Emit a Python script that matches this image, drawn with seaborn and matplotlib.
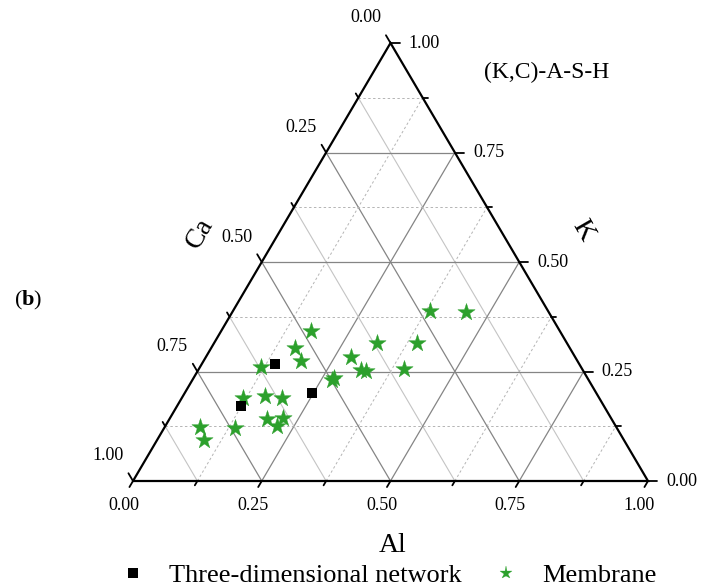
import numpy as np
import pandas as pd
import matplotlib
matplotlib.use("Agg")
import matplotlib.pyplot as plt
from matplotlib.lines import Line2D
import seaborn as sns

# ---------------- data (ternary fractions: Al, K, Ca) ----------------
net_al = [0.143, 0.124, 0.247]
net_k = [0.266, 0.171, 0.202]
net_ca = [0.591, 0.705, 0.551]

mem_al = [0.174, 0.163, 0.190, 0.118, 0.119, 0.160, 0.194, 0.190, 0.219, 0.217,
          0.069, 0.091, 0.137, 0.271, 0.272, 0.281, 0.316, 0.326, 0.317, 0.382,
          0.454, 0.393, 0.399]
mem_k = [0.343, 0.304, 0.274, 0.260, 0.190, 0.194, 0.190, 0.141, 0.143, 0.126,
         0.123, 0.094, 0.122, 0.231, 0.236, 0.284, 0.253, 0.252, 0.314, 0.389,
         0.385, 0.316, 0.255]
mem_ca = [0.483, 0.533, 0.536, 0.622, 0.691, 0.646, 0.616, 0.669, 0.638, 0.657,
          0.809, 0.815, 0.741, 0.499, 0.492, 0.435, 0.431, 0.422, 0.369, 0.229,
          0.161, 0.291, 0.346]

tick_values = [0.0, 0.25, 0.5, 0.75, 1.0]
tick_labels = ["0.00", "0.25", "0.50", "0.75", "1.00"]
series_names = ["Three-dimensional network", "Membrane"]

sns.set_style("white")
plt.rcParams["font.family"] = ["Liberation Serif", "DejaVu Serif"]
plt.rcParams["text.color"] = "black"
plt.rcParams["mathtext.fontset"] = "custom"
plt.rcParams["mathtext.rm"] = "Liberation Serif"
plt.rcParams["mathtext.bf"] = "Liberation Serif:bold"

W, H = 702, 588
fig = plt.figure(figsize=(W / 100, H / 100), dpi=100)
ax = fig.add_axes([0, 0, 1, 1])

# pixel geometry of the triangle
x0px, x1px = 133, 648
ybase, yapex = 481, 43
sx = x1px - x0px
sy = ybase - yapex
ax.set_xlim(-x0px / sx, (W - x0px) / sx)
ax.set_ylim(-(H - ybase) / sy, ybase / sy)
ax.axis("off")
PX = 1.0 / sx
PY = 1.0 / sy


def tern(al, k):
    al = np.asarray(al, float)
    k = np.asarray(k, float)
    return al + k / 2.0, k


# ---------------- grid ----------------
major_c = "#858585"
minor_c = "#c4c4c4"
dash_c = "#b4b4b4"
for i in range(1, 8):
    v = i / 8.0
    major = (i % 2 == 0)
    # K constant (horizontal)
    ax.plot([v / 2, 1 - v / 2], [v, v],
            color=major_c if major else dash_c, lw=0.9 if major else 0.7,
            ls="-" if major else (0, (2.5, 2.5)), zorder=1)
    # Al constant (parallel to left edge)
    ax.plot([v, v + (1 - v) / 2], [0, 1 - v],
            color=major_c if major else dash_c, lw=0.9 if major else 0.7,
            ls="-" if major else (0, (2.5, 2.5)), zorder=1)
    # Ca constant (parallel to right edge)
    ax.plot([1 - v, (1 - v) / 2], [0, 1 - v],
            color=major_c if major else minor_c, lw=0.9 if major else 0.8,
            ls="-", zorder=1)

# outer triangle
ax.plot([0, 1, 0.5, 0], [0, 0, 1, 0], color="black", lw=1.6, zorder=3,
        solid_joinstyle="miter", clip_on=False)

# ---------------- ticks ----------------
ldx, ldy = -0.507, 0.862
for i in range(0, 9):
    v = i / 8.0
    L = 9 if i % 2 == 0 else 5
    # right axis (K)
    xr, yr = 1 - v / 2, v
    ax.plot([xr, xr + L * PX], [yr, yr], color="black", lw=1.3, zorder=3, clip_on=False)
    # left axis (Ca)
    xl, yl = (1 - v) / 2, 1 - v
    ax.plot([xl, xl + ldx * L * PX], [yl, yl + ldy * L * PY], color="black", lw=1.3,
            zorder=3, clip_on=False)
    # bottom axis (Al)
    Lb = 7 if i % 2 == 0 else 5
    ax.plot([v, v + ldx * Lb * PX], [0, -ldy * Lb * PY], color="black", lw=1.3,
            zorder=3, clip_on=False)

fs_tick = 13
for v, lab in zip(tick_values, tick_labels):
    # bottom: Al
    ax.text(v - 9 * PX, -24 * PY, lab, ha="center", va="center", fontsize=fs_tick)
    # right: K
    ax.text(1 - v / 2 + 18 * PX, v, lab, ha="left", va="center", fontsize=fs_tick)
    # left: Ca
    ax.text((1 - v) / 2 - 25 * PX, 1 - v + 25 * PY, lab, ha="center", va="center",
            fontsize=fs_tick)

# axis titles
ax.text(0.5 + 2 * PX, -64 * PY, "Al", ha="center", va="center", fontsize=20)
ax.text((200 - x0px) * PX, (ybase - 233) * PY, "Ca", ha="center", va="center",
        fontsize=20, rotation=60)
ax.text((583 - x0px) * PX, (ybase - 230) * PY, "K", ha="center", va="center",
        fontsize=20, rotation=-60)
ax.text((547 - x0px) * PX, (ybase - 72) * PY, "(K,C)-A-S-H", ha="center", va="center",
        fontsize=17)
ax.text((28 - x0px) * PX, (ybase - 300) * PY, r"$\mathrm{(}\mathbf{b}\mathrm{)}$",
        ha="center", va="center", fontsize=16)

# ---------------- data points ----------------
nx, ny = tern(net_al, net_k)
mx, my = tern(mem_al, mem_k)
df_net = pd.DataFrame({"x": nx, "y": ny})
df_mem = pd.DataFrame({"x": mx, "y": my})

green = "#2ca02c"
sns.scatterplot(data=df_mem, x="x", y="y", ax=ax, marker="*", s=170,
                color=green, edgecolor=green, linewidth=0.3,
                legend=False, zorder=5, clip_on=False)
sns.scatterplot(data=df_net, x="x", y="y", ax=ax, marker="s", s=55,
                color="black", edgecolor="black", linewidth=0,
                legend=False, zorder=6, clip_on=False)

handles = [
    Line2D([], [], ls="none", marker="s", markersize=7, color="black",
           markeredgewidth=0),
    Line2D([], [], ls="none", marker="*", markersize=9.5, color=green,
           markeredgewidth=0.2),
]
fig.legend(handles, series_names,
           loc="center", bbox_to_anchor=(0.553, 1 - 575 / H), ncol=2,
           frameon=False, fontsize=19, handlelength=1.0, handletextpad=0.85,
           columnspacing=1.2, borderpad=0.1)

fig.savefig("out.png", dpi=100)
